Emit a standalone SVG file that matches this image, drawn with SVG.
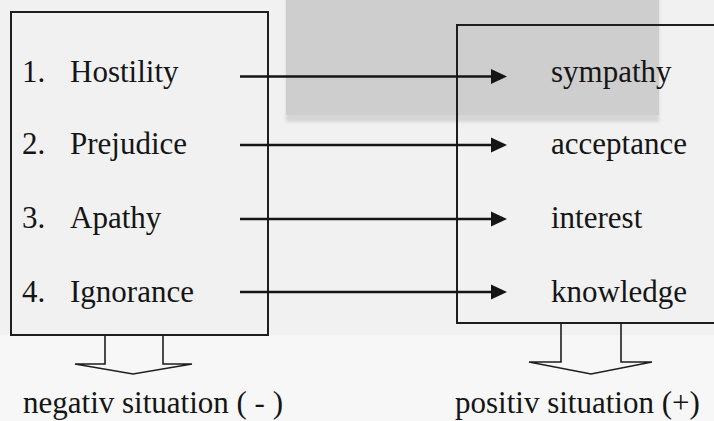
<svg xmlns="http://www.w3.org/2000/svg" width="714" height="421" viewBox="0 0 714 421">
  <defs>
    <style>
      text { font-family: 'Liberation Serif', 'DejaVu Serif', serif; font-size: 31px; fill: #151515; }
      .box { fill: none; stroke: #1e1e1e; stroke-width: 2; }
      .conn { stroke: #151515; stroke-width: 2.6; fill: none; }
      .head { fill: #151515; }
      .block { fill: none; stroke: #1e1e1e; stroke-width: 1.6; stroke-linejoin: miter; }
    </style>
    <filter id="blur" x="-10%" y="-10%" width="120%" height="120%">
      <feGaussianBlur stdDeviation="1.5"/>
    </filter>
  </defs>

  <g id="background">
    <rect x="0" y="0" width="714" height="421" fill="#f1f1f1"/>
    <rect x="0" y="335" width="714" height="86" fill="#f7f7f7"/>
    <rect x="286" y="0" width="373" height="122" fill="#d6d6d6" filter="url(#blur)"/>
    <rect x="286" y="0" width="373" height="115" fill="#cecece"/>
  </g>

  <g id="negative-box" font-family="Liberation Serif, serif">
    <rect class="box" x="11" y="12" width="257" height="323"/>
    <text x="22" y="82">1.</text><text x="70" y="82">Hostility</text>
    <text x="22" y="154">2.</text><text x="70" y="154">Prejudice</text>
    <text x="22" y="228">3.</text><text x="70" y="228">Apathy</text>
    <text x="22" y="302">4.</text><text x="70" y="302">Ignorance</text>
  </g>

  <g id="positive-box" font-family="Liberation Serif, serif">
    <path class="box" d="M 716 25 H 457 V 323 H 716"/>
    <text x="551" y="82">sympathy</text>
    <text x="551" y="154">acceptance</text>
    <text x="551" y="228">interest</text>
    <text x="551" y="302">knowledge</text>
  </g>

  <g id="connectors">
    <line class="conn" x1="240" y1="76.5" x2="494" y2="76.5"/>
    <polygon class="head" points="491,69 507,76.5 491,84"/>
    <line class="conn" x1="240" y1="145" x2="494" y2="145"/>
    <polygon class="head" points="491,137.5 507,145 491,152.5"/>
    <line class="conn" x1="240" y1="219" x2="494" y2="219"/>
    <polygon class="head" points="491,211.5 507,219 491,226.5"/>
    <line class="conn" x1="240" y1="292" x2="494" y2="292"/>
    <polygon class="head" points="491,284.5 507,292 491,299.5"/>
  </g>

  <g id="negative-outcome" font-family="Liberation Serif, serif">
    <polyline class="block" points="105,335 105,364 75,364 133,374 192,364 163,364 163,335"/>
    <text x="23" y="413">negativ situation ( - )</text>
  </g>

  <g id="positive-outcome" font-family="Liberation Serif, serif">
    <polyline class="block" points="561,323 561,362 529,362 591,374 652,362 621,362 621,323"/>
    <text x="455" y="413">positiv situation (+)</text>
  </g>
</svg>
